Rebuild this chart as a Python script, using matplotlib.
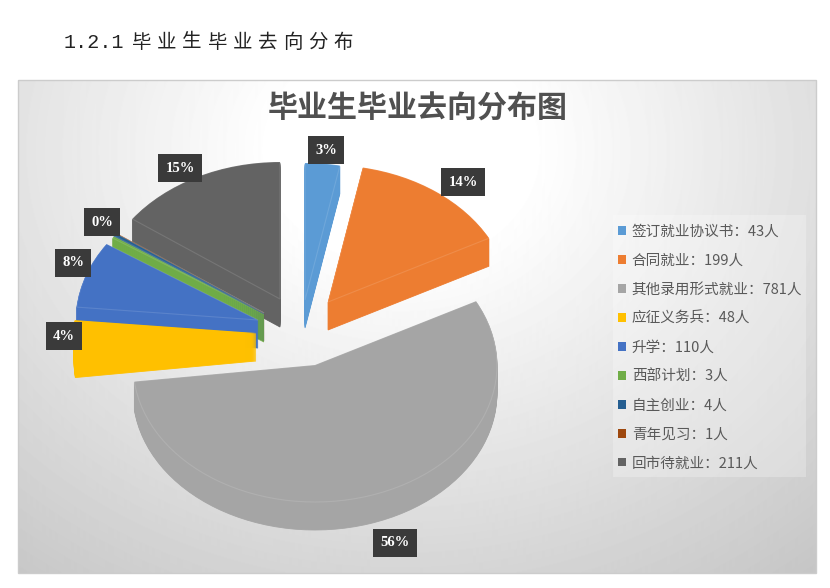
import numpy as np
import matplotlib
matplotlib.use('Agg')
import matplotlib.pyplot as plt
from matplotlib.patches import Wedge, Rectangle
from matplotlib.transforms import Affine2D

plt.rcParams['font.family'] = ['Noto Sans CJK SC', 'DejaVu Sans']

# data
categories = ['签订就业协议书', '合同就业', '其他录用形式就业', '应征义务兵', '升学',
              '西部计划', '自主创业', '青年见习', '回市待就业']
people = [43, 199, 781, 48, 110, 3, 4, 1, 211]
pct_labels = ['3%', '14%', '56%', '4%', '8%', '0%', '', '', '15%']
colors = ['#5B9BD5', '#ED7D31', '#A5A5A5', '#FFC000', '#4472C4',
          '#70AD47', '#255E91', '#9E480E', '#636363']

title = '毕业生毕业去向分布图'
heading_num = '1.2.1'
heading_text = '毕业生毕业去向分布'

# layout, in pixels of the 830x588 picture
apex = [(305, 300), (328, 302), (315, 365), (256, 333), (258, 320),
        (264, 314), (264, 313), (264, 313), (280, 299)]
label_pos = [(326, 150), (463, 182), (395, 543), (64, 336), (73, 263),
             (102, 222), None, None, (180, 168)]
draw_order = [8, 7, 6, 5, 4, 3, 0, 1, 2]
rx, ry = 182, 137
depth = 28

fig = plt.figure(figsize=(8.3, 5.88), dpi=100)
ax = fig.add_axes([0, 0, 1, 1])

wedges, _ = ax.pie(people, colors=colors, startangle=90, counterclock=False, radius=1)
ax.set_aspect('auto')

# grey background, white towards the upper middle
left, right, top, bottom = 18, 816, 80, 573
xx, yy = np.meshgrid(np.arange(left, right), np.arange(top, bottom))
dist = np.hypot(xx - 400, 1.2 * (yy - 150))
bg = np.clip(255 - 0.11 * np.clip(dist - 130, 0, None), 0, 255) / 255
ax.imshow(bg, extent=(left, right, bottom, top), cmap='gray', vmin=0, vmax=1,
          aspect='auto', zorder=0)
ax.set_xlim(0, 830)
ax.set_ylim(588, 0)
ax.add_patch(Rectangle((left, top), right - left, bottom - top, fill=False,
                       ec='#cccccc', lw=1.0, zorder=1))

# extrude each slice, then lay the top face over it
for n, i in enumerate(draw_order):
    w = wedges[i]
    cx, cy = apex[i]
    z = 2 + n
    for k in range(depth, 0, -1):
        side = Wedge(w.center, w.r, w.theta1, w.theta2, fc=colors[i], ec=colors[i], lw=0.6, zorder=z)
        side.set_transform(Affine2D().scale(rx, -ry).translate(cx, cy + k) + ax.transData)
        ax.add_patch(side)
    w.set_transform(Affine2D().scale(rx, -ry).translate(cx, cy) + ax.transData)
    # the yellow slice shows no edge highlight
    w.set_edgecolor((1, 1, 1, 0.0 if i == 3 else 0.12))
    w.set_linewidth(0.8)
    w.set_zorder(z + 0.5)

for lab, pos in zip(pct_labels, label_pos):
    if pos is None:
        continue
    ax.text(pos[0], pos[1], lab, color='white', fontsize=10.5, fontweight='bold',
            family='Liberation Serif', ha='center', va='center', zorder=30,
            bbox=dict(boxstyle='square,pad=0.5', fc='#3a3a3a', ec='none'))

# legend panel
ax.add_patch(Rectangle((613, 215), 193, 262, fc='white', ec='none', alpha=0.25, zorder=24))

leg_labels = ['%s：%d人' % (c, p) for c, p in zip(categories, people)]
handles = [Rectangle((0, 0), 1, 1, fc=c, ec='none') for c in colors]
leg = ax.legend(handles, leg_labels, loc='upper left', bbox_to_anchor=(618, 225),
                bbox_transform=ax.transData, fontsize=10.5, frameon=False,
                handlelength=0.55, handleheight=0.55, handletextpad=0.4,
                labelspacing=1.02, borderpad=0, borderaxespad=0, labelcolor='#595959')
leg.set_zorder(25)

ax.text(418, 109, title, fontsize=21.6, fontweight='bold', color='#505050',
        ha='center', va='center', zorder=30)

ax.text(64, 42, heading_num, fontsize=14.5, family='Liberation Mono', color='#222222',
        ha='left', va='center')
for i, ch in enumerate(heading_text):
    ax.text(132 + i * 25.2, 42, ch, fontsize=14, color='#222222', ha='left', va='center')

fig.savefig('out.png', dpi=100)
